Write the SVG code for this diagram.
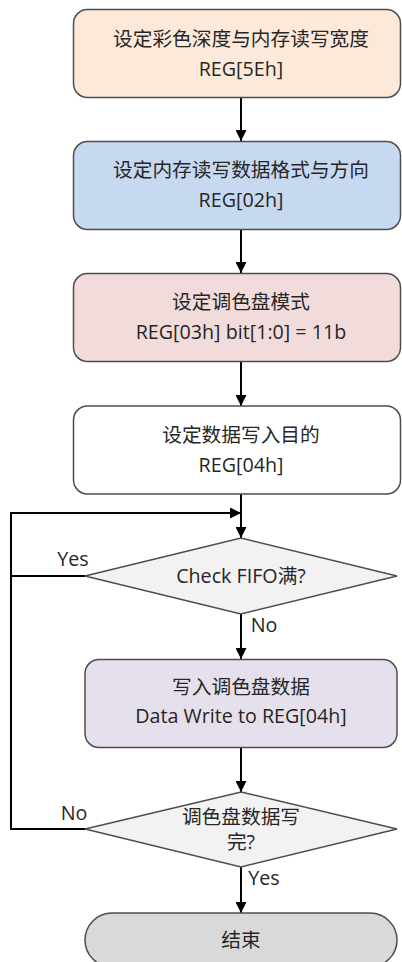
<svg xmlns="http://www.w3.org/2000/svg" width="402" height="962" viewBox="0 0 402 962">
<style>
.n{stroke:#4d4d4d;stroke-width:1.5}
.t{font-family:"Open Sans","Noto Sans CJK SC",sans-serif;font-size:19.7px;fill:#262626;text-anchor:middle}
.c{fill:none;stroke:#000;stroke-width:2}
</style>
<defs>
<marker id="ah" markerWidth="11" markerHeight="11" viewBox="0 0 11 11" refX="11" refY="5.5" orient="auto" markerUnits="userSpaceOnUse">
<path d="M0,0 L11,5.5 L0,11 Z" fill="#000"/>
</marker>
</defs>
<rect width="402" height="962" fill="#fff"/>
<g id="connectors">
<line class="c" x1="241" y1="97" x2="241" y2="141" marker-end="url(#ah)"/>
<line class="c" x1="241" y1="229" x2="241" y2="273" marker-end="url(#ah)"/>
<line class="c" x1="241" y1="361" x2="241" y2="406" marker-end="url(#ah)"/>
<line class="c" x1="241" y1="493" x2="241" y2="538" marker-end="url(#ah)"/>
<line class="c" x1="241" y1="614" x2="241" y2="659" marker-end="url(#ah)"/>
<line class="c" x1="241" y1="747" x2="241" y2="792" marker-end="url(#ah)"/>
<line class="c" x1="241" y1="867" x2="241" y2="913" marker-end="url(#ah)"/>
<polyline class="c" points="85,829 11,829 11,513 241,513" marker-end="url(#ah)"/>
<line class="c" x1="85" y1="576" x2="11" y2="576"/>
<text class="t" x="73" y="566">Yes</text>
<text class="t" x="264" y="632">No</text>
<text class="t" x="74" y="820">No</text>
<text class="t" x="264" y="885">Yes</text>
</g>
<g id="n1">
<rect class="n" x="73.5" y="9.5" width="327" height="88" rx="14" fill="#fde9d9"/>
<text class="t" x="241" y="46">设定彩色深度与内存读写宽度</text>
<text class="t" x="241" y="76">REG[5Eh]</text>
</g>
<g id="n2">
<rect class="n" x="73.5" y="141.5" width="327" height="88" rx="14" fill="#c6d9f1"/>
<text class="t" x="241" y="177">设定内存读写数据格式与方向</text>
<text class="t" x="241" y="207">REG[02h]</text>
</g>
<g id="n3">
<rect class="n" x="73.5" y="273.5" width="327" height="88" rx="14" fill="#f2dcdb"/>
<text class="t" x="241" y="309">设定调色盘模式</text>
<text class="t" x="241" y="339">REG[03h] bit[1:0] = 11b</text>
</g>
<g id="n4">
<rect class="n" x="73.5" y="406" width="327" height="88" rx="14" fill="#fff"/>
<text class="t" x="241" y="442">设定数据写入目的</text>
<text class="t" x="241" y="472">REG[04h]</text>
</g>
<g id="d1">
<polygon class="n" points="241,538 397,576 241,614 85,576" fill="#f2f2f2"/>
<text class="t" x="241" y="583">Check FIFO满?</text>
</g>
<g id="n5">
<rect class="n" x="85" y="659.5" width="312" height="88" rx="14" fill="#e6e0ec"/>
<text class="t" x="241" y="694">写入调色盘数据</text>
<text class="t" x="241" y="723">Data Write to REG[04h]</text>
</g>
<g id="d2">
<polygon class="n" points="241,792 397,829 241,867 85,829" fill="#f2f2f2"/>
<text class="t" x="241" y="824">调色盘数据写</text>
<text class="t" x="241" y="849">完?</text>
</g>
<g id="end">
<rect class="n" x="85" y="913" width="312" height="54" rx="27" fill="#d9d9d9"/>
<text class="t" x="241" y="947">结束</text>
</g>
</svg>
